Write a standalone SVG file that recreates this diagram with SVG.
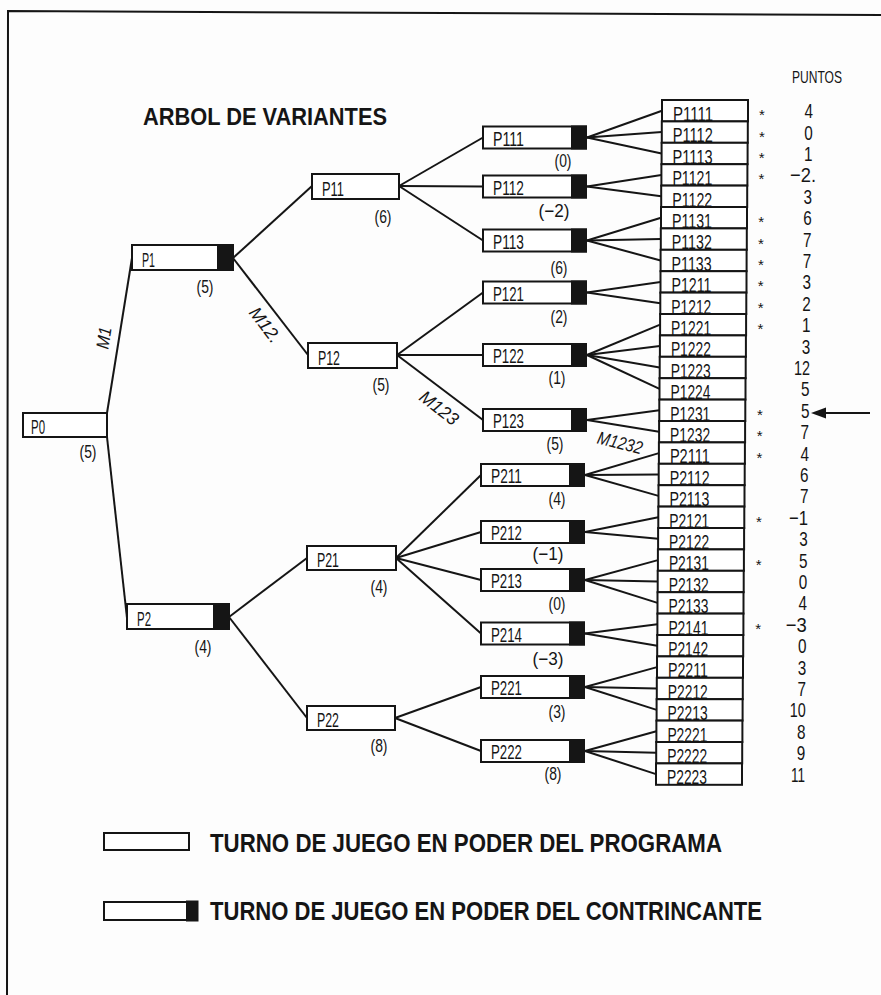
<svg xmlns="http://www.w3.org/2000/svg" width="881" height="995" viewBox="0 0 881 995">
<style>
.b{fill:#fff;stroke:#151515;stroke-width:2}
.k{fill:#151515}
.f{font-family:"Liberation Sans",Arial,Helvetica,sans-serif;fill:#151515}
.t{font-size:21px}
.v{font-size:18px;text-anchor:middle}
.s{font-size:21px;text-anchor:end}
.a{font-size:15px;text-anchor:middle}
.m{font-size:18px;font-style:italic;text-anchor:middle}
.h{font-weight:bold}
#edges line,#frame path{stroke:#151515;stroke-width:2;fill:none}
</style>
<rect x="0" y="0" width="881" height="995" fill="#fdfdfd"/>
<g id="frame"><path d="M7,995 L8,11 L881,15"/></g>
<text class="f h" x="143" y="125" font-size="24" textLength="244" lengthAdjust="spacingAndGlyphs">ARBOL DE VARIANTES</text>
<text class="f" x="792" y="83" font-size="17" textLength="50" lengthAdjust="spacingAndGlyphs">PUNTOS</text>

<g id="edges">
<line x1="107" y1="413" x2="132" y2="258"/>
<line x1="107" y1="437" x2="127" y2="618"/>
<line x1="233" y1="258" x2="312" y2="186"/>
<line x1="233" y1="258" x2="308" y2="355"/>
<line x1="229" y1="617" x2="307" y2="558"/>
<line x1="229" y1="617" x2="307" y2="718"/>
<line x1="399" y1="186" x2="483" y2="137.5"/>
<line x1="399" y1="186" x2="483" y2="186.5"/>
<line x1="399" y1="186" x2="483" y2="240.5"/>
<line x1="397" y1="355" x2="483" y2="292.5"/>
<line x1="397" y1="355" x2="483" y2="355"/>
<line x1="397" y1="355" x2="483" y2="420"/>
<line x1="396" y1="558" x2="481" y2="475"/>
<line x1="396" y1="558" x2="481" y2="532"/>
<line x1="396" y1="558" x2="481" y2="580"/>
<line x1="396" y1="558" x2="481" y2="633.5"/>
<line x1="395" y1="718" x2="481" y2="687"/>
<line x1="395" y1="718" x2="481" y2="751"/>
<line x1="587" y1="137.5" x2="662" y2="110.7"/>
<line x1="587" y1="137.5" x2="661.8" y2="132.1"/>
<line x1="587" y1="137.5" x2="661.6" y2="153.5"/>
<line x1="587" y1="186.5" x2="661.4" y2="174.9"/>
<line x1="587" y1="186.5" x2="661.2" y2="196.3"/>
<line x1="587" y1="240.5" x2="661" y2="217.7"/>
<line x1="587" y1="240.5" x2="660.8" y2="239.1"/>
<line x1="587" y1="240.5" x2="660.6" y2="260.5"/>
<line x1="587" y1="292.5" x2="660.5" y2="281.9"/>
<line x1="587" y1="292.5" x2="660.3" y2="303.3"/>
<line x1="587" y1="355" x2="660.1" y2="324.7"/>
<line x1="587" y1="355" x2="659.9" y2="346.1"/>
<line x1="587" y1="355" x2="659.7" y2="367.5"/>
<line x1="587" y1="355" x2="659.5" y2="388.9"/>
<line x1="587" y1="420" x2="659.3" y2="410.3"/>
<line x1="587" y1="420" x2="659.1" y2="431.7"/>
<line x1="585" y1="475" x2="658.9" y2="453.1"/>
<line x1="585" y1="475" x2="658.7" y2="474.5"/>
<line x1="585" y1="475" x2="658.5" y2="495.9"/>
<line x1="585" y1="532" x2="658.3" y2="517.3"/>
<line x1="585" y1="532" x2="658.1" y2="538.7"/>
<line x1="585" y1="580" x2="657.9" y2="560.1"/>
<line x1="585" y1="580" x2="657.7" y2="581.5"/>
<line x1="585" y1="580" x2="657.5" y2="602.9"/>
<line x1="585" y1="633.5" x2="657.4" y2="624.3"/>
<line x1="585" y1="633.5" x2="657.2" y2="645.7"/>
<line x1="585" y1="687" x2="657" y2="667.1"/>
<line x1="585" y1="687" x2="656.8" y2="688.5"/>
<line x1="585" y1="687" x2="656.6" y2="709.9"/>
<line x1="585" y1="751" x2="656.4" y2="731.3"/>
<line x1="585" y1="751" x2="656.2" y2="752.7"/>
<line x1="585" y1="751" x2="656" y2="774.1"/>
<text class="f m" transform="translate(104,338) rotate(-81)" y="6" textLength="22" lengthAdjust="spacingAndGlyphs">M1</text>
<text class="f m" transform="translate(265,325) rotate(53)" y="6" textLength="40" lengthAdjust="spacingAndGlyphs">M12.</text>
<text class="f m" transform="translate(439,408) rotate(38)" y="6" textLength="44" lengthAdjust="spacingAndGlyphs">M123</text>
<text class="f m" transform="translate(620,443) rotate(14)" y="6" textLength="46" lengthAdjust="spacingAndGlyphs">M1232</text>
</g>

<g id="P0"><rect class="b" x="23" y="413" width="84" height="24"/><text class="f t" x="31" y="434" textLength="14" lengthAdjust="spacingAndGlyphs">P0</text><text class="f v" x="88" y="457.7" textLength="17" lengthAdjust="spacingAndGlyphs">(5)</text></g>
<g id="P1"><rect class="b" x="132" y="245" width="101" height="25"/><rect class="k" x="217" y="244" width="17" height="27"/><text class="f t" x="142" y="267" textLength="13" lengthAdjust="spacingAndGlyphs">P1</text><text class="f v" x="205" y="292.7" textLength="17" lengthAdjust="spacingAndGlyphs">(5)</text></g>
<g id="P2"><rect class="b" x="127" y="604" width="102" height="25"/><rect class="k" x="213" y="603" width="17" height="27"/><text class="f t" x="137" y="626" textLength="14" lengthAdjust="spacingAndGlyphs">P2</text><text class="f v" x="203" y="652.7" textLength="17" lengthAdjust="spacingAndGlyphs">(4)</text></g>

<g id="P11"><rect class="b" x="312" y="174" width="87" height="25"/><text class="f t" x="322" y="196" textLength="22" lengthAdjust="spacingAndGlyphs">P11</text><text class="f v" x="383" y="222.7" textLength="17" lengthAdjust="spacingAndGlyphs">(6)</text></g>
<g id="P12"><rect class="b" x="308" y="343" width="89" height="25"/><text class="f t" x="318" y="365" textLength="22" lengthAdjust="spacingAndGlyphs">P12</text><text class="f v" x="381" y="390.7" textLength="17" lengthAdjust="spacingAndGlyphs">(5)</text></g>
<g id="P21"><rect class="b" x="307" y="546" width="89" height="24"/><text class="f t" x="317" y="567" textLength="22" lengthAdjust="spacingAndGlyphs">P21</text><text class="f v" x="379" y="592.7" textLength="17" lengthAdjust="spacingAndGlyphs">(4)</text></g>
<g id="P22"><rect class="b" x="307" y="706" width="88" height="24"/><text class="f t" x="317" y="727" textLength="22" lengthAdjust="spacingAndGlyphs">P22</text><text class="f v" x="379" y="751.7" textLength="17" lengthAdjust="spacingAndGlyphs">(8)</text></g>

<g id="P111"><rect class="b" x="483" y="126.5" width="103" height="22"/><rect class="k" x="571" y="125.5" width="16" height="24"/><text class="f t" x="493" y="145.5" textLength="31" lengthAdjust="spacingAndGlyphs">P111</text><text class="f v" x="563" y="166.7" textLength="17" lengthAdjust="spacingAndGlyphs">(0)</text></g>
<g id="P112"><rect class="b" x="483" y="175.5" width="103" height="22"/><rect class="k" x="571" y="174.5" width="16" height="24"/><text class="f t" x="493" y="194.5" textLength="31" lengthAdjust="spacingAndGlyphs">P112</text><text class="f v" x="554" y="216.7" textLength="31" lengthAdjust="spacingAndGlyphs">(−2)</text></g>
<g id="P113"><rect class="b" x="483" y="229.5" width="103" height="22"/><rect class="k" x="571" y="228.5" width="16" height="24"/><text class="f t" x="493" y="248.5" textLength="31" lengthAdjust="spacingAndGlyphs">P113</text><text class="f v" x="559" y="273.7" textLength="17" lengthAdjust="spacingAndGlyphs">(6)</text></g>
<g id="P121"><rect class="b" x="483" y="281.5" width="103" height="22"/><rect class="k" x="571" y="280.5" width="16" height="24"/><text class="f t" x="493" y="300.5" textLength="31" lengthAdjust="spacingAndGlyphs">P121</text><text class="f v" x="559" y="322.7" textLength="17" lengthAdjust="spacingAndGlyphs">(2)</text></g>
<g id="P122"><rect class="b" x="483" y="344" width="103" height="22"/><rect class="k" x="571" y="343" width="16" height="24"/><text class="f t" x="493" y="363" textLength="31" lengthAdjust="spacingAndGlyphs">P122</text><text class="f v" x="557" y="383.7" textLength="17" lengthAdjust="spacingAndGlyphs">(1)</text></g>
<g id="P123"><rect class="b" x="483" y="409" width="103" height="22"/><rect class="k" x="571" y="408" width="16" height="24"/><text class="f t" x="493" y="428" textLength="31" lengthAdjust="spacingAndGlyphs">P123</text><text class="f v" x="555" y="449.7" textLength="17" lengthAdjust="spacingAndGlyphs">(5)</text></g>
<g id="P211"><rect class="b" x="481" y="464" width="103" height="22"/><rect class="k" x="569" y="463" width="16" height="24"/><text class="f t" x="491" y="483" textLength="31" lengthAdjust="spacingAndGlyphs">P211</text><text class="f v" x="557" y="504.7" textLength="17" lengthAdjust="spacingAndGlyphs">(4)</text></g>
<g id="P212"><rect class="b" x="481" y="521" width="103" height="22"/><rect class="k" x="569" y="520" width="16" height="24"/><text class="f t" x="491" y="540" textLength="31" lengthAdjust="spacingAndGlyphs">P212</text><text class="f v" x="548" y="559.7" textLength="31" lengthAdjust="spacingAndGlyphs">(−1)</text></g>
<g id="P213"><rect class="b" x="481" y="569" width="103" height="22"/><rect class="k" x="569" y="568" width="16" height="24"/><text class="f t" x="491" y="588" textLength="31" lengthAdjust="spacingAndGlyphs">P213</text><text class="f v" x="557" y="609.7" textLength="17" lengthAdjust="spacingAndGlyphs">(0)</text></g>
<g id="P214"><rect class="b" x="481" y="622.5" width="103" height="22"/><rect class="k" x="569" y="621.5" width="16" height="24"/><text class="f t" x="491" y="641.5" textLength="31" lengthAdjust="spacingAndGlyphs">P214</text><text class="f v" x="548" y="664.7" textLength="31" lengthAdjust="spacingAndGlyphs">(−3)</text></g>
<g id="P221"><rect class="b" x="481" y="676" width="103" height="22"/><rect class="k" x="569" y="675" width="16" height="24"/><text class="f t" x="491" y="695" textLength="31" lengthAdjust="spacingAndGlyphs">P221</text><text class="f v" x="557" y="717.7" textLength="17" lengthAdjust="spacingAndGlyphs">(3)</text></g>
<g id="P222"><rect class="b" x="481" y="740" width="103" height="22"/><rect class="k" x="569" y="739" width="16" height="24"/><text class="f t" x="491" y="759" textLength="31" lengthAdjust="spacingAndGlyphs">P222</text><text class="f v" x="553" y="779.7" textLength="17" lengthAdjust="spacingAndGlyphs">(8)</text></g>

<g id="leaves">
<g id="P1111"><rect class="b" x="662" y="100" width="86" height="21.4"/><text class="f t" x="673" y="120.9" textLength="40" lengthAdjust="spacingAndGlyphs">P1111</text></g>
<g id="P1112"><rect class="b" x="661.8" y="121.4" width="86" height="21.4"/><text class="f t" x="672.8" y="142.3" textLength="40" lengthAdjust="spacingAndGlyphs">P1112</text></g>
<g id="P1113"><rect class="b" x="661.6" y="142.8" width="86" height="21.4"/><text class="f t" x="672.6" y="163.7" textLength="40" lengthAdjust="spacingAndGlyphs">P1113</text></g>
<g id="P1121"><rect class="b" x="661.4" y="164.2" width="86" height="21.4"/><text class="f t" x="672.4" y="185.1" textLength="40" lengthAdjust="spacingAndGlyphs">P1121</text></g>
<g id="P1122"><rect class="b" x="661.2" y="185.6" width="86" height="21.4"/><text class="f t" x="672.2" y="206.5" textLength="40" lengthAdjust="spacingAndGlyphs">P1122</text></g>
<g id="P1131"><rect class="b" x="661" y="207" width="86" height="21.4"/><text class="f t" x="672" y="227.9" textLength="40" lengthAdjust="spacingAndGlyphs">P1131</text></g>
<g id="P1132"><rect class="b" x="660.8" y="228.4" width="86" height="21.4"/><text class="f t" x="671.8" y="249.3" textLength="40" lengthAdjust="spacingAndGlyphs">P1132</text></g>
<g id="P1133"><rect class="b" x="660.6" y="249.8" width="86" height="21.4"/><text class="f t" x="671.6" y="270.7" textLength="40" lengthAdjust="spacingAndGlyphs">P1133</text></g>
<g id="P1211"><rect class="b" x="660.5" y="271.2" width="86" height="21.4"/><text class="f t" x="671.5" y="292.1" textLength="40" lengthAdjust="spacingAndGlyphs">P1211</text></g>
<g id="P1212"><rect class="b" x="660.3" y="292.6" width="86" height="21.4"/><text class="f t" x="671.3" y="313.5" textLength="40" lengthAdjust="spacingAndGlyphs">P1212</text></g>
<g id="P1221"><rect class="b" x="660.1" y="314" width="86" height="21.4"/><text class="f t" x="671.1" y="334.9" textLength="40" lengthAdjust="spacingAndGlyphs">P1221</text></g>
<g id="P1222"><rect class="b" x="659.9" y="335.4" width="86" height="21.4"/><text class="f t" x="670.9" y="356.3" textLength="40" lengthAdjust="spacingAndGlyphs">P1222</text></g>
<g id="P1223"><rect class="b" x="659.7" y="356.8" width="86" height="21.4"/><text class="f t" x="670.7" y="377.7" textLength="40" lengthAdjust="spacingAndGlyphs">P1223</text></g>
<g id="P1224"><rect class="b" x="659.5" y="378.2" width="86" height="21.4"/><text class="f t" x="670.5" y="399.1" textLength="40" lengthAdjust="spacingAndGlyphs">P1224</text></g>
<g id="P1231"><rect class="b" x="659.3" y="399.6" width="86" height="21.4"/><text class="f t" x="670.3" y="420.5" textLength="40" lengthAdjust="spacingAndGlyphs">P1231</text></g>
<g id="P1232"><rect class="b" x="659.1" y="421" width="86" height="21.4"/><text class="f t" x="670.1" y="441.9" textLength="40" lengthAdjust="spacingAndGlyphs">P1232</text></g>
<g id="P2111"><rect class="b" x="658.9" y="442.4" width="86" height="21.4"/><text class="f t" x="669.9" y="463.3" textLength="40" lengthAdjust="spacingAndGlyphs">P2111</text></g>
<g id="P2112"><rect class="b" x="658.7" y="463.8" width="86" height="21.4"/><text class="f t" x="669.7" y="484.7" textLength="40" lengthAdjust="spacingAndGlyphs">P2112</text></g>
<g id="P2113"><rect class="b" x="658.5" y="485.2" width="86" height="21.4"/><text class="f t" x="669.5" y="506.1" textLength="40" lengthAdjust="spacingAndGlyphs">P2113</text></g>
<g id="P2121"><rect class="b" x="658.3" y="506.6" width="86" height="21.4"/><text class="f t" x="669.3" y="527.5" textLength="40" lengthAdjust="spacingAndGlyphs">P2121</text></g>
<g id="P2122"><rect class="b" x="658.1" y="528" width="86" height="21.4"/><text class="f t" x="669.1" y="548.9" textLength="40" lengthAdjust="spacingAndGlyphs">P2122</text></g>
<g id="P2131"><rect class="b" x="657.9" y="549.4" width="86" height="21.4"/><text class="f t" x="668.9" y="570.3" textLength="40" lengthAdjust="spacingAndGlyphs">P2131</text></g>
<g id="P2132"><rect class="b" x="657.7" y="570.8" width="86" height="21.4"/><text class="f t" x="668.7" y="591.7" textLength="40" lengthAdjust="spacingAndGlyphs">P2132</text></g>
<g id="P2133"><rect class="b" x="657.5" y="592.2" width="86" height="21.4"/><text class="f t" x="668.5" y="613.1" textLength="40" lengthAdjust="spacingAndGlyphs">P2133</text></g>
<g id="P2141"><rect class="b" x="657.4" y="613.6" width="86" height="21.4"/><text class="f t" x="668.4" y="634.5" textLength="40" lengthAdjust="spacingAndGlyphs">P2141</text></g>
<g id="P2142"><rect class="b" x="657.2" y="635" width="86" height="21.4"/><text class="f t" x="668.2" y="655.9" textLength="40" lengthAdjust="spacingAndGlyphs">P2142</text></g>
<g id="P2211"><rect class="b" x="657" y="656.4" width="86" height="21.4"/><text class="f t" x="668" y="677.3" textLength="40" lengthAdjust="spacingAndGlyphs">P2211</text></g>
<g id="P2212"><rect class="b" x="656.8" y="677.8" width="86" height="21.4"/><text class="f t" x="667.8" y="698.7" textLength="40" lengthAdjust="spacingAndGlyphs">P2212</text></g>
<g id="P2213"><rect class="b" x="656.6" y="699.2" width="86" height="21.4"/><text class="f t" x="667.6" y="720.1" textLength="40" lengthAdjust="spacingAndGlyphs">P2213</text></g>
<g id="P2221"><rect class="b" x="656.4" y="720.6" width="86" height="21.4"/><text class="f t" x="667.4" y="741.5" textLength="40" lengthAdjust="spacingAndGlyphs">P2221</text></g>
<g id="P2222"><rect class="b" x="656.2" y="742" width="86" height="21.4"/><text class="f t" x="667.2" y="762.9" textLength="40" lengthAdjust="spacingAndGlyphs">P2222</text></g>
<g id="P2223"><rect class="b" x="656" y="763.4" width="86" height="21.4"/><text class="f t" x="667" y="784.3" textLength="40" lengthAdjust="spacingAndGlyphs">P2223</text></g>
</g>

<g id="puntos">
<text class="f a" x="762" y="120.2">*</text><text class="f s" x="813" y="118.2" textLength="8.5" lengthAdjust="spacingAndGlyphs">4</text>
<text class="f a" x="761.8" y="141.6">*</text><text class="f s" x="812.7" y="139.6" textLength="8.5" lengthAdjust="spacingAndGlyphs">0</text>
<text class="f a" x="761.7" y="163">*</text><text class="f s" x="812.5" y="161" textLength="8.5" lengthAdjust="spacingAndGlyphs">1</text>
<text class="f a" x="761.5" y="184.4">*</text><text class="f s" x="816" y="182.4" textLength="26" lengthAdjust="spacingAndGlyphs">−2.</text>
<text class="f s" x="812" y="203.8" textLength="8.5" lengthAdjust="spacingAndGlyphs">3</text>
<text class="f a" x="761.2" y="227.2">*</text><text class="f s" x="811.7" y="225.2" textLength="8.5" lengthAdjust="spacingAndGlyphs">6</text>
<text class="f a" x="761" y="248.6">*</text><text class="f s" x="811.5" y="246.6" textLength="8.5" lengthAdjust="spacingAndGlyphs">7</text>
<text class="f a" x="760.9" y="270">*</text><text class="f s" x="811.2" y="268" textLength="8.5" lengthAdjust="spacingAndGlyphs">7</text>
<text class="f a" x="760.7" y="291.4">*</text><text class="f s" x="810.9" y="289.4" textLength="8.5" lengthAdjust="spacingAndGlyphs">3</text>
<text class="f a" x="760.6" y="312.8">*</text><text class="f s" x="810.7" y="310.8" textLength="8.5" lengthAdjust="spacingAndGlyphs">2</text>
<text class="f a" x="760.4" y="334.2">*</text><text class="f s" x="810.4" y="332.2" textLength="8.5" lengthAdjust="spacingAndGlyphs">1</text>
<text class="f s" x="810.2" y="353.6" textLength="8.5" lengthAdjust="spacingAndGlyphs">3</text>
<text class="f s" x="809.9" y="375" textLength="16" lengthAdjust="spacingAndGlyphs">12</text>
<text class="f s" x="809.6" y="396.4" textLength="8.5" lengthAdjust="spacingAndGlyphs">5</text>
<text class="f a" x="759.8" y="419.8">*</text><text class="f s" x="809.4" y="417.8" textLength="8.5" lengthAdjust="spacingAndGlyphs">5</text>
<text class="f a" x="759.6" y="441.2">*</text><text class="f s" x="809.1" y="439.2" textLength="8.5" lengthAdjust="spacingAndGlyphs">7</text>
<text class="f a" x="759.4" y="462.6">*</text><text class="f s" x="808.9" y="460.6" textLength="8.5" lengthAdjust="spacingAndGlyphs">4</text>
<text class="f s" x="808.6" y="482" textLength="8.5" lengthAdjust="spacingAndGlyphs">6</text>
<text class="f s" x="808.4" y="503.4" textLength="8.5" lengthAdjust="spacingAndGlyphs">7</text>
<text class="f a" x="759" y="526.8">*</text><text class="f s" x="808.1" y="524.8" textLength="19" lengthAdjust="spacingAndGlyphs">−1</text>
<text class="f s" x="807.8" y="546.2" textLength="8.5" lengthAdjust="spacingAndGlyphs">3</text>
<text class="f a" x="758.6" y="569.6">*</text><text class="f s" x="807.6" y="567.6" textLength="8.5" lengthAdjust="spacingAndGlyphs">5</text>
<text class="f s" x="807.3" y="589" textLength="8.5" lengthAdjust="spacingAndGlyphs">0</text>
<text class="f s" x="807.1" y="610.4" textLength="8.5" lengthAdjust="spacingAndGlyphs">4</text>
<text class="f a" x="758.2" y="633.8">*</text><text class="f s" x="806.8" y="631.8" textLength="21" lengthAdjust="spacingAndGlyphs">−3</text>
<text class="f s" x="806.5" y="653.2" textLength="8.5" lengthAdjust="spacingAndGlyphs">0</text>
<text class="f s" x="806.3" y="674.6" textLength="8.5" lengthAdjust="spacingAndGlyphs">3</text>
<text class="f s" x="806" y="696" textLength="8.5" lengthAdjust="spacingAndGlyphs">7</text>
<text class="f s" x="805.8" y="717.4" textLength="16" lengthAdjust="spacingAndGlyphs">10</text>
<text class="f s" x="805.5" y="738.8" textLength="8.5" lengthAdjust="spacingAndGlyphs">8</text>
<text class="f s" x="805.3" y="760.2" textLength="8.5" lengthAdjust="spacingAndGlyphs">9</text>
<text class="f s" x="805" y="781.6" textLength="14" lengthAdjust="spacingAndGlyphs">11</text>
</g>

<g id="arrow"><line x1="870" y1="413" x2="824" y2="413" stroke="#151515" stroke-width="2"/><polygon points="811,413 826,407.5 826,418.5" fill="#151515"/></g>

<g id="legend">
<rect class="b" x="104" y="833" width="85" height="17" stroke-width="2.5"/>
<text class="f h" x="210" y="852" font-size="25" textLength="512" lengthAdjust="spacingAndGlyphs">TURNO DE JUEGO EN PODER DEL PROGRAMA</text>
<rect class="b" x="104" y="902" width="93" height="18" stroke-width="2.5"/>
<rect class="k" x="186" y="900.5" width="12.5" height="21"/>
<text class="f h" x="210" y="920" font-size="25" textLength="552" lengthAdjust="spacingAndGlyphs">TURNO DE JUEGO EN PODER DEL CONTRINCANTE</text>
</g>
</svg>
